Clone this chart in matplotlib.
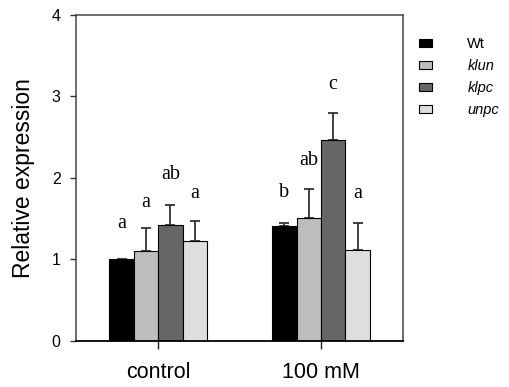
import matplotlib
matplotlib.use("Agg")
import matplotlib.pyplot as plt
import numpy as np

groups = ["control", "100 mM"]
series = ["Wt", "klun", "klpc", "unpc"]
means = {
    "Wt":   [1.00, 1.41],
    "klun": [1.10, 1.51],
    "klpc": [1.42, 2.47],
    "unpc": [1.22, 1.12],
}
err_upper = {
    "Wt":   [np.nan, 0.03],
    "klun": [0.29, 0.35],
    "klpc": [0.25, 0.33],
    "unpc": [0.25, 0.32],
}
letters = {
    "Wt":   ["a", "b"],
    "klun": ["a", "ab"],
    "klpc": ["ab", "c"],
    "unpc": ["a", "a"],
}
letter_y = {
    "Wt":   [1.38, 1.76],
    "klun": [1.64, 2.16],
    "klpc": [1.99, 3.09],
    "unpc": [1.75, 1.75],
}
colors = {"Wt": "#000000", "klun": "#bdbdbd", "klpc": "#666666", "unpc": "#dedede"}
yticks = [0, 1, 2, 3, 4]

plt.rcParams['font.family'] = ['Liberation Sans', 'DejaVu Sans']
fig = plt.figure(figsize=(5.1, 3.87), dpi=100)
ax = fig.add_axes([0.149, 0.1196, 0.641, 0.8416])

x = np.arange(1, len(groups) + 1)
w = 0.15
offsets = [-1.5, -0.5, 0.5, 1.5]
for s, off in zip(series, offsets):
    xs = x + off * w
    ax.bar(xs, means[s], width=w, color=colors[s], edgecolor="black",
           linewidth=0.8, label=s, zorder=2)
    ax.errorbar(xs, means[s], yerr=[np.zeros(len(groups)), err_upper[s]],
                fmt="none", ecolor="#333333", elinewidth=1.3, capsize=3.6,
                capthick=1.3, zorder=1)
    for xi, lab, ly in zip(xs, letters[s], letter_y[s]):
        ax.text(xi, ly, lab, ha="center", va="baseline", fontsize=14.5,
                family=["Liberation Serif", "DejaVu Serif"])

ax.set_xlim(0.494, 2.504)
ax.set_ylim(0, 4)
ax.set_yticks(yticks)
ax.set_yticklabels([str(t) for t in yticks], fontsize=11.5)
ax.set_xticks(x)
ax.set_xticklabels(groups, fontsize=15.5)
ax.tick_params(axis="y", direction="out", length=4, width=1, color="#333333", pad=7)
ax.tick_params(axis="x", direction="out", length=6, width=1, color="#222222", pad=9)
ax.set_ylabel("Relative expression", fontsize=16.5, labelpad=12)

for sp in ["left", "top", "right"]:
    ax.spines[sp].set_color("#444444")
    ax.spines[sp].set_linewidth(1.1)
ax.spines["bottom"].set_color("black")
ax.spines["bottom"].set_linewidth(1.3)

handles, labels = ax.get_legend_handles_labels()
leg = ax.legend(handles, labels, loc="upper left", bbox_to_anchor=(1.03, 0.95),
                frameon=False, fontsize=10.5, handlelength=0.95, handleheight=0.55,
                handletextpad=2.4, labelspacing=0.55, borderaxespad=0)
for t in leg.get_texts()[1:]:
    t.set_style("italic")

fig.savefig("out.png", dpi=100)
